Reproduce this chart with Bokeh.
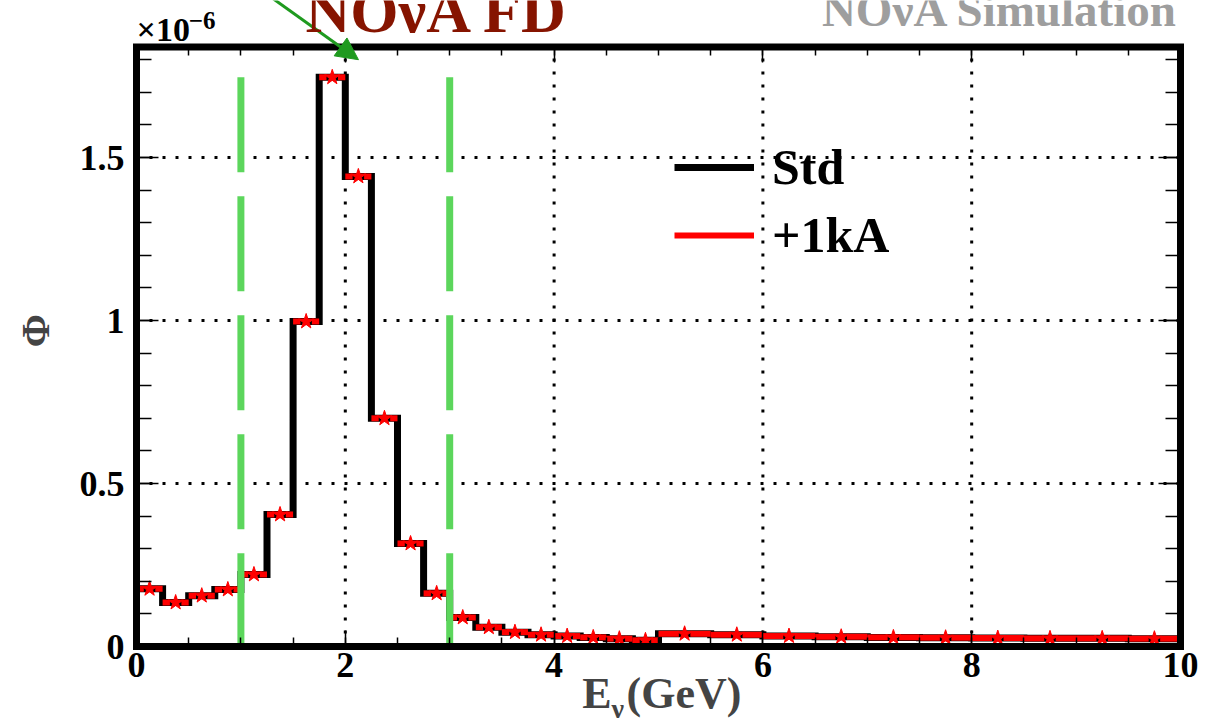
import numpy as np
from bokeh.plotting import figure
from bokeh.models import (Range1d, LinearAxis, FixedTicker, Label, Arrow,
                          NormalHead, Legend, LegendItem, CustomJSTickFormatter)
from bokeh.embed import file_html
from bokeh.resources import INLINE

# ---------------- data (flux in units of 1e-6) ----------------
bin_edges = [0.0, 0.25, 0.5, 0.75, 1.0, 1.25, 1.5, 1.75, 2.0, 2.25, 2.5,
             2.75, 3.0, 3.25, 3.5, 3.75, 4.0, 4.25, 4.5, 4.75, 5.0,
             5.5, 6.0, 6.5, 7.0, 7.5, 8.0, 8.5, 9.0, 9.5, 10.0]
std_flux = [0.177, 0.135, 0.156, 0.175, 0.221, 0.405, 0.997, 1.746, 1.442,
            0.700, 0.316, 0.163, 0.089, 0.059, 0.044, 0.036, 0.032, 0.028,
            0.024, 0.019, 0.039, 0.036, 0.032, 0.030, 0.028, 0.027, 0.026,
            0.025, 0.025, 0.024]
plus1kA_flux = [0.177, 0.135, 0.156, 0.175, 0.221, 0.405, 0.997, 1.746, 1.442,
                0.700, 0.316, 0.163, 0.089, 0.059, 0.044, 0.036, 0.032, 0.028,
                0.024, 0.019, 0.039, 0.036, 0.032, 0.030, 0.028, 0.027, 0.026,
                0.025, 0.025, 0.024]
x_tick_values = [0, 2, 4, 6, 8, 10]
x_tick_labels = ["0", "2", "4", "6", "8", "10"]
x_minor_values = [0.5 * i for i in range(21)]
y_tick_values = [0, 0.5, 1.0, 1.5]
y_tick_labels = ["0", "0.5", "1", "1.5"]
y_minor_values = [round(0.1 * i, 2) for i in range(19)]
window_edges = [1.0, 3.0]
series_names = ["Std", "+1kA"]

X_LO, X_HI = 0.0, 10.0      # axis frame limits
Y_LO, Y_HI = 0.0, 1.839

SERIF = "Liberation Serif"

# the plotting frame covers the whole canvas; axes are placed at fixed data
# positions so that texts around the axes box are not clipped
p = figure(width=1224, height=722, output_backend="svg", toolbar_location=None,
           x_range=Range1d(-1.3027, 10.4215), y_range=Range1d(-0.2331, 1.9816),
           min_border=0, min_border_left=0, min_border_right=0,
           min_border_top=0, min_border_bottom=0,
           x_axis_location=None, y_axis_location=None)
p.background_fill_color = "white"
p.border_fill_color = "white"
p.outline_line_color = None
p.xgrid.visible = False
p.ygrid.visible = False

xt = FixedTicker(ticks=x_tick_values, minor_ticks=x_minor_values)
yt = FixedTicker(ticks=y_tick_values, minor_ticks=y_minor_values)
blank = CustomJSTickFormatter(code="return ''")


def style_axis(ax, labels, tin, tmin, show_labels=True):
    ax.axis_line_color = None
    ax.major_tick_in = tin
    ax.major_tick_out = 0
    ax.minor_tick_in = tmin
    ax.minor_tick_out = 0
    ax.major_tick_line_color = "black"
    ax.minor_tick_line_color = "black"
    ax.major_tick_line_width = 1.5
    ax.minor_tick_line_width = 1.5
    if show_labels:
        ax.major_label_text_font = SERIF
        ax.major_label_text_font_style = "bold"
        ax.major_label_text_font_size = "36px"
        ax.major_label_text_color = "black"
        ax.major_label_overrides = labels
    else:
        ax.formatter = blank
        ax.major_label_standoff = 0


xlab = dict(zip(x_tick_values, x_tick_labels))
ylab = dict(zip(y_tick_values, y_tick_labels))

# ---------------- grid (dotted) ----------------
p.segment(x_tick_values, [Y_LO] * len(x_tick_values),
          x_tick_values, [Y_HI] * len(x_tick_values),
          line_color="black", line_width=3, line_dash="3 10")
p.segment([X_LO] * len(y_tick_values), y_tick_values,
          [X_HI] * len(y_tick_values), y_tick_values,
          line_color="black", line_width=3, line_dash="3 10")

# ---------------- histogram ----------------
edges = np.array(bin_edges)
v_std = np.array(std_flux)
v_ka = np.array(plus1kA_flux)
xs = np.repeat(edges, 2)
ys = np.concatenate([[0.0], np.repeat(v_std, 2), [0.0]])
std_r = p.line(xs, ys, line_color="black", line_width=7, line_join="miter")

centers = 0.5 * (edges[:-1] + edges[1:])
gap = 0.055
sx0 = np.concatenate([edges[:-1], centers + gap])
sx1 = np.concatenate([centers - gap, edges[1:]])
sy = np.concatenate([v_ka, v_ka])
ka_r = p.segment(sx0, sy, sx1, sy, line_color="red", line_width=6)
p.scatter(centers, v_ka, marker="star", size=16, fill_color="red",
          line_color="red")

# window lines
top = max(std_flux)
p.segment(window_edges, [top] * 2, window_edges, [0, 0], line_color="#5cd65c",
          line_width=7, line_dash="95 24")

# frame box
p.quad(left=[X_LO], right=[X_HI], bottom=[Y_LO], top=[Y_HI], fill_color=None,
       line_color="black", line_width=7, line_join="miter")

# ---------------- axes ----------------
bx = LinearAxis(ticker=xt, fixed_location=Y_LO)
style_axis(bx, xlab, 16, 9)
bx.major_label_standoff = 6
p.add_layout(bx, "below")
tx = LinearAxis(ticker=xt, fixed_location=Y_HI)
style_axis(tx, xlab, 16, 9, False)
p.add_layout(tx, "above")
ly = LinearAxis(ticker=yt, fixed_location=X_LO)
style_axis(ly, ylab, 22, 15)
ly.major_label_standoff = 12
p.add_layout(ly, "left")
ry = LinearAxis(ticker=yt, fixed_location=X_HI)
style_axis(ry, ylab, 22, 15, False)
p.add_layout(ry, "right")

# arrow
p.add_layout(Arrow(end=NormalHead(size=22, fill_color="#1f9a1f",
                                  line_color="#1f9a1f"),
                   x_start=0.929, y_start=2.074, x_end=2.126, y_end=1.80,
                   line_color="#1f9a1f", line_width=3))

# legend
leg = Legend(items=[LegendItem(label=series_names[0], renderers=[std_r]),
                    LegendItem(label=series_names[1], renderers=[ka_r])],
             location=(674, 453), padding=0, margin=0, spacing=0,
             glyph_width=80, glyph_height=68, label_height=68,
             label_standoff=18, background_fill_alpha=0,
             border_line_alpha=0, label_text_font=SERIF,
             label_text_color="black",
             label_text_font_style="bold", label_text_font_size="50px")
p.add_layout(leg)

# texts (anchored at the bottom of the text box)
p.add_layout(Label(x=0.0, y=1.8365, text="×10", text_font=SERIF,
                   text_font_style="bold", text_font_size="34px",
                   text_color="black"))
p.add_layout(Label(x=0.50, y=1.8945, text="−6", text_font=SERIF,
                   text_font_style="bold", text_font_size="25px",
                   text_color="black"))
p.add_layout(Label(x=1.619, y=1.8454, text="NOνA FD", text_font=SERIF,
                   text_font_style="bold", text_font_size="62px",
                   text_color="#861400"))
p.add_layout(Label(x=9.981, y=1.8736, text="NOνA Simulation", text_font=SERIF,
                   text_font_style="bold", text_font_size="47px",
                   text_color="#9e9e9e", text_align="right"))
p.add_layout(Label(x=-0.967, y=0.969, text="Φ", text_font=SERIF,
                   text_font_style="bold", text_font_size="40px",
                   angle=np.pi / 2, text_align="center",
                   text_baseline="middle"))
p.add_layout(Label(x=4.55, y=-0.2193, text="E", text_font=SERIF,
                   text_font_style="bold", text_font_size="44px",
                   text_align="right"))
p.add_layout(Label(x=4.55, y=-0.2193, y_offset=-6, text="ν", text_font=SERIF,
                   text_font_style="bold", text_font_size="28px",
                   text_align="left"))
p.add_layout(Label(x=4.55, y=-0.2193, x_offset=15, text="(GeV)",
                   text_font=SERIF, text_font_style="bold",
                   text_font_size="44px", text_align="left"))

open("out.html", "w").write(file_html(p, INLINE))
